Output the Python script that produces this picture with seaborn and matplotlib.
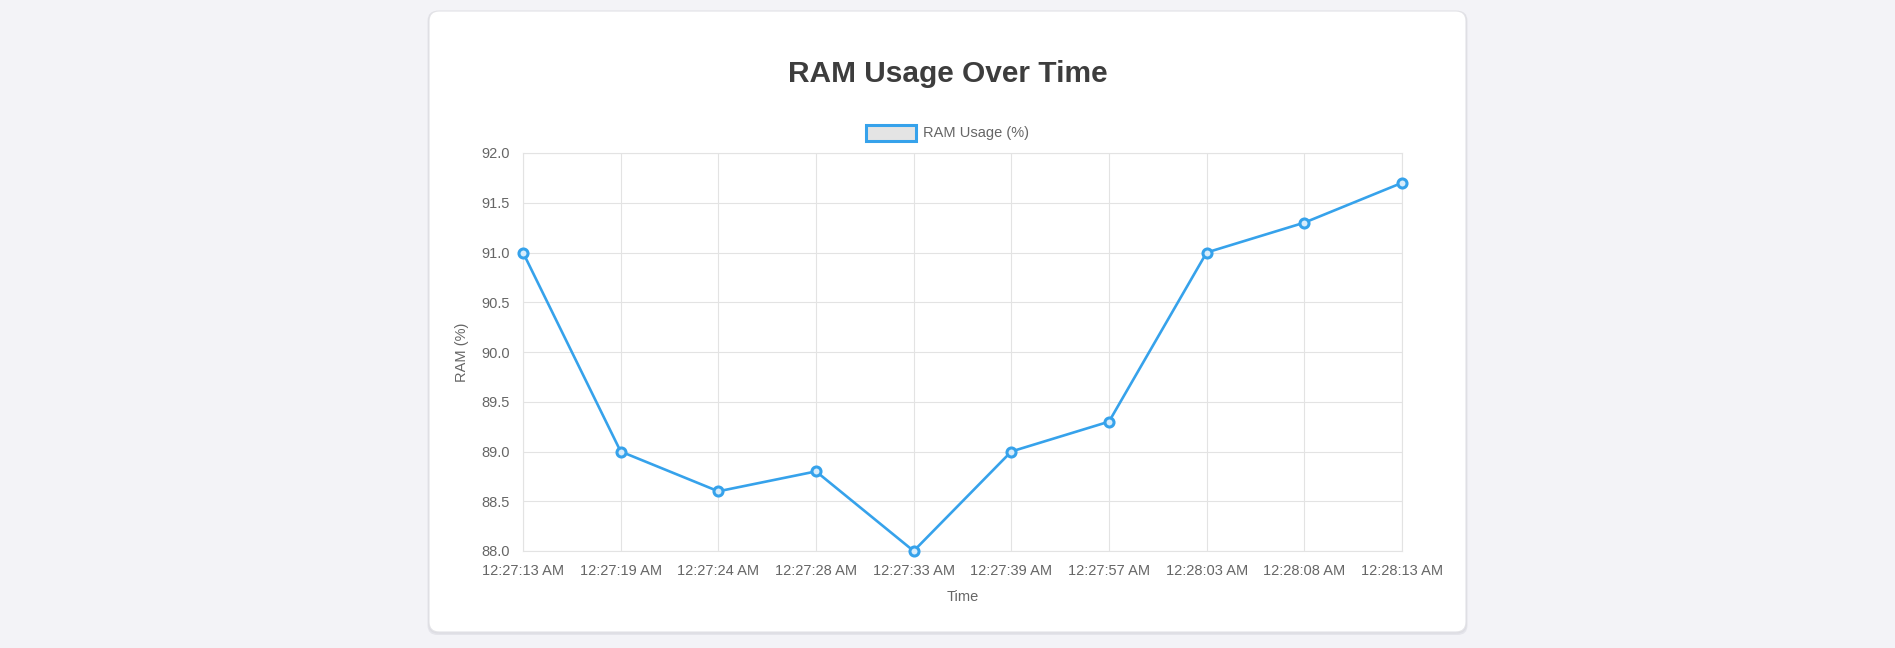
import numpy as np
import pandas as pd
import matplotlib
matplotlib.use("Agg")
import matplotlib.pyplot as plt
from matplotlib.patches import FancyBboxPatch, Rectangle
from matplotlib.transforms import IdentityTransform
import seaborn as sns

# data
times = ["12:27:13 AM", "12:27:19 AM", "12:27:24 AM", "12:27:28 AM", "12:27:33 AM",
         "12:27:39 AM", "12:27:57 AM", "12:28:03 AM", "12:28:08 AM", "12:28:13 AM"]
ram_usage = [91.0, 89.0, 88.6, 88.8, 88.0, 89.0, 89.3, 91.0, 91.3, 91.7]
y_ticks = [88.0, 88.5, 89.0, 89.5, 90.0, 90.5, 91.0, 91.5, 92.0]

df = pd.DataFrame({"Time": times, "RAM (%)": ram_usage})

sns.set_theme(style="white")
plt.rcParams["font.family"] = ["Liberation Sans", "DejaVu Sans"]

W, H = 1895, 648
blue = "#36a2eb"
grid_c = "#e3e3e3"
text_c = "#666666"

fig = plt.figure(figsize=(W / 100, H / 100), dpi=100, facecolor="#f3f3f7")

# card with a soft shadow (pixel coords, origin bottom-left)
px = IdentityTransform()
for off, col in [(3, "#e4e4ea"), (1.5, "#dcdce2")]:
    fig.patches.append(FancyBboxPatch((429 - off / 2, H - 632 - off), 1037 + off, 621 + off,
                                      boxstyle="round,pad=0,rounding_size=10",
                                      transform=px, facecolor=col, edgecolor="none", zorder=-3))
fig.patches.append(FancyBboxPatch((429, H - 632), 1037, 621,
                                  boxstyle="round,pad=0,rounding_size=10",
                                  transform=px, facecolor="white", edgecolor="#e2e2e6",
                                  linewidth=0.8, zorder=-2))

fig.text(948 / W, 1 - 82 / H, "RAM Usage Over Time", ha="center", va="baseline",
         fontsize=21.5, fontweight="bold", color="#3d3d3d")

# legend drawn by hand, chart.js style
fig.patches.append(Rectangle((866, H - 141), 50, 16, transform=px, facecolor="#e4e4e4",
                             edgecolor=blue, linewidth=2.2, zorder=2))
fig.text(923 / W, 1 - 133 / H, "RAM Usage (%)", ha="left", va="center",
         fontsize=10.5, color=text_c)

ax = fig.add_axes([523 / W, 1 - 551 / H, (1402 - 523) / W, (551 - 153) / H])
ax.set_facecolor("none")

sns.lineplot(data=df, x="Time", y="RAM (%)", sort=False, ax=ax, color=blue,
             linewidth=1.9, marker="o", markersize=6.5, markerfacecolor="#d7ecfb",
             markeredgecolor=blue, markeredgewidth=2.2, zorder=5, clip_on=False)

ax.set_xlim(0, len(times) - 1)
ax.set_ylim(88, 92)
ax.set_yticks(y_ticks)
ax.set_yticklabels([f"{v:.1f}" for v in y_ticks])

ax.grid(True, color=grid_c, linewidth=0.8)
for s in ax.spines.values():
    s.set_color(grid_c)
    s.set_linewidth(0.8)
ax.tick_params(axis="both", length=7.2, width=0.8, color=grid_c, labelcolor=text_c,
               labelsize=10.5, pad=2)

ax.set_xlabel("Time", fontsize=10.5, color=text_c)
ax.set_ylabel("RAM (%)", fontsize=10.5, color=text_c)
ax.xaxis.set_label_coords(0.5, (551 - 597) / 398)
ax.xaxis.label.set_va("center")
ax.yaxis.set_label_coords((462 - 523) / 879, 0.5)
ax.yaxis.label.set_va("center")

fig.savefig("out.png", dpi=100, facecolor=fig.get_facecolor())
